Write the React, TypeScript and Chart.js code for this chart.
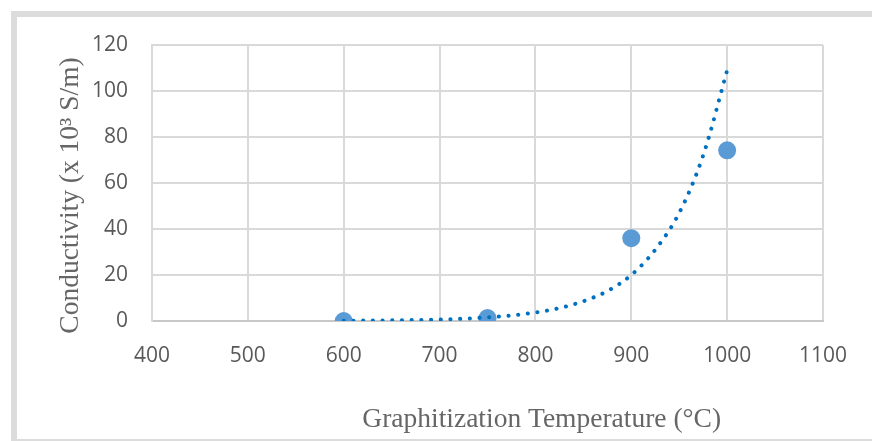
import React, { useEffect, useRef } from "react";
import { Chart, registerables } from "chart.js";

Chart.register(...registerables);

// Measured points
const tempsC = [600, 750, 900, 1000];
const conductivity = [0, 1.3, 36, 74.2];

// Exponential trendline
const trendTemps = [600, 625, 650, 675, 700, 725, 750, 775, 800, 825, 850, 875, 900, 925, 950, 975, 1000];
const trendValues = [0.12, 0.18, 0.29, 0.44, 0.67, 1.0, 1.6, 2.4, 3.7, 5.6, 8.6, 13, 20, 31, 47, 72, 109];

const xTitle = "Graphitization Temperature (°C)";
const yTitle = "Conductivity (x 10³ S/m)";

const titlePlugin = {
  id: "customTitles",
  afterDraw(chart: any) {
    const ctx = chart.ctx;
    ctx.save();
    ctx.fillStyle = "#666666";
    ctx.font = '27.5px "Liberation Serif"';
    ctx.textAlign = "center";
    ctx.textBaseline = "alphabetic";
    ctx.fillText(xTitle, 541.7, 427.3);
    ctx.translate(77.5, 195.5);
    ctx.rotate(-Math.PI / 2);
    ctx.fillText(yTitle, 0, 0);
    ctx.restore();
  },
};

export default function App() {
  const ref = useRef<HTMLCanvasElement | null>(null);
  useEffect(() => {
    if (!ref.current) return;
    const chart = new Chart(ref.current, {
      type: "scatter",
      data: {
        datasets: [
          {
            type: "line",
            label: "Trend",
            data: trendTemps.map((t, i) => ({ x: t, y: trendValues[i] })),
            borderColor: "#0070C0",
            borderWidth: 4,
            borderDash: [0.1, 9.6],
            borderCapStyle: "round",
            pointRadius: 0,
            cubicInterpolationMode: "monotone",
            fill: false,
            order: 0,
          } as any,
          {
            label: "Conductivity",
            data: tempsC.map((t, i) => ({ x: t, y: conductivity[i] })),
            backgroundColor: "#5B9BD5",
            borderWidth: 0,
            pointRadius: 9,
            pointHoverRadius: 9,
            order: 1,
          },
        ],
      },
      options: {
        animation: false,
        responsive: false,
        devicePixelRatio: 1,
        events: [],
        layout: { padding: { left: 0, top: 45, right: 49, bottom: 0 } },
        plugins: { legend: { display: false }, tooltip: { enabled: false } },
        scales: {
          x: {
            type: "linear",
            min: 400,
            max: 1100,
            afterFit: (s: any) => {
              s.height = 120;
            },
            ticks: {
              stepSize: 100,
              padding: 22,
              color: "#595959",
              font: { family: '"Open Sans"', size: 21 },
              callback: (v: any) => String(v),
            },
            grid: { color: "#d9d9d9", lineWidth: 2, drawTicks: false },
            border: { color: "#c8c8c8", width: 2 },
          },
          y: {
            type: "linear",
            min: 0,
            max: 120,
            afterFit: (s: any) => {
              s.width = 152;
            },
            ticks: {
              stepSize: 20,
              padding: 24,
              color: "#595959",
              font: { family: '"Open Sans"', size: 21 },
              callback: (v: any) => String(v),
            },
            grid: { color: "#d9d9d9", lineWidth: 2, drawTicks: false },
            border: { color: "#d9d9d9", width: 2 },
          },
        },
      },
      plugins: [titlePlugin],
    });
    return () => chart.destroy();
  }, []);

  return (
    <div
      style={{
        position: "fixed",
        left: 0,
        top: 0,
        width: 872,
        height: 441,
        overflow: "hidden",
        background: "#ffffff",
      }}
    >
      <div
        style={{
          position: "absolute",
          left: 11,
          top: 11,
          width: 900,
          height: 434,
          boxSizing: "border-box",
          border: "6px solid #dcdcdc",
        }}
      />
      <canvas
        ref={ref}
        width={872}
        height={441}
        style={{ position: "absolute", left: 0, top: 0, width: 872, height: 441 }}
      />
    </div>
  );
}
